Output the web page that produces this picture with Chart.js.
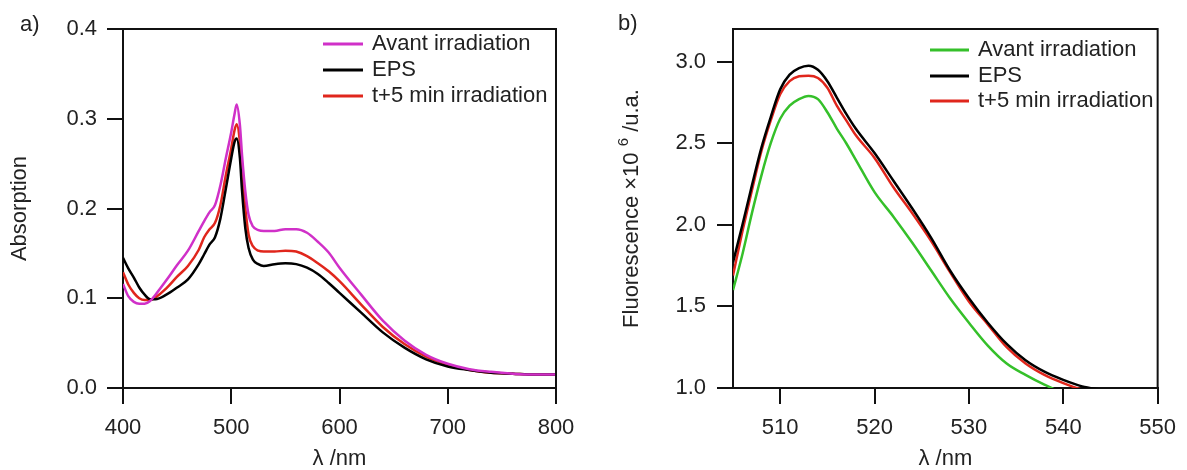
<!DOCTYPE html>
<html>
<head>
<meta charset="utf-8">
<script src="https://cdn.jsdelivr.net/npm/chart.js@4.4.1/dist/chart.umd.min.js"></script>
<style>
  body { margin: 0; background: #fff; width: 1187px; height: 470px; position: relative; overflow: hidden; font-family: "Liberation Sans", Arial, sans-serif; }
  canvas { position: absolute; top: 0; }
  #chartA { left: 0; }
  #chartB { left: 600px; }
  .panel-tag { position: absolute; font-size: 22px; line-height: 22px; color: #222; }
</style>
</head>
<body>
<canvas id="chartA" width="600" height="470"></canvas>
<canvas id="chartB" width="587" height="470"></canvas>
<div class="panel-tag" style="left:20px;top:13px">a)</div>
<div class="panel-tag" style="left:618px;top:12px">b)</div>
<script>
// a) absorption spectra
const absWavelengths = [400, 405, 410, 415, 420, 425, 430, 440, 450, 460, 470, 475, 480, 485, 490, 495, 500, 503, 505, 508, 510, 513, 516, 520, 525, 530, 540, 550, 560, 570, 580, 590, 600, 620, 640, 660, 680, 700, 720, 740, 760, 780, 800];
const absAvant = [0.116, 0.102, 0.096, 0.094, 0.094, 0.097, 0.104, 0.120, 0.137, 0.153, 0.175, 0.186, 0.196, 0.204, 0.226, 0.256, 0.285, 0.305, 0.316, 0.293, 0.259, 0.219, 0.193, 0.180, 0.176, 0.175, 0.175, 0.177, 0.177, 0.173, 0.163, 0.151, 0.134, 0.104, 0.075, 0.053, 0.037, 0.027, 0.021, 0.018, 0.016, 0.015, 0.015];
const absEps = [0.145, 0.133, 0.123, 0.112, 0.104, 0.099, 0.099, 0.104, 0.112, 0.121, 0.138, 0.149, 0.160, 0.168, 0.189, 0.222, 0.256, 0.274, 0.278, 0.256, 0.219, 0.178, 0.156, 0.143, 0.138, 0.136, 0.138, 0.139, 0.138, 0.134, 0.127, 0.117, 0.106, 0.084, 0.062, 0.045, 0.032, 0.024, 0.020, 0.017, 0.016, 0.015, 0.015];
const absT5 = [0.129, 0.115, 0.106, 0.100, 0.098, 0.098, 0.101, 0.111, 0.124, 0.136, 0.154, 0.168, 0.177, 0.184, 0.204, 0.237, 0.267, 0.287, 0.294, 0.274, 0.241, 0.200, 0.171, 0.158, 0.153, 0.152, 0.152, 0.153, 0.152, 0.147, 0.139, 0.130, 0.119, 0.093, 0.068, 0.049, 0.035, 0.026, 0.020, 0.017, 0.016, 0.015, 0.015];
const absXTicks = [400, 500, 600, 700, 800];
const absYTicks = [0.0, 0.1, 0.2, 0.3, 0.4];

// b) fluorescence spectra
const fluoWavelengths = [505, 506, 507, 508, 509, 510, 511, 512, 513, 514, 515, 516, 517, 518, 520, 522, 524, 526, 528, 530, 532, 534, 536, 538, 540, 542, 544];
const fluoAvant = [1.60, 1.82, 2.07, 2.30, 2.50, 2.65, 2.73, 2.77, 2.79, 2.77, 2.69, 2.59, 2.50, 2.40, 2.20, 2.05, 1.89, 1.72, 1.55, 1.40, 1.26, 1.15, 1.08, 1.02, 0.97, 0.94, 0.92];
const fluoEps = [1.77, 2.00, 2.24, 2.47, 2.66, 2.83, 2.92, 2.96, 2.975, 2.95, 2.88, 2.78, 2.68, 2.59, 2.44, 2.27, 2.10, 1.92, 1.72, 1.55, 1.40, 1.27, 1.17, 1.10, 1.05, 1.01, 0.99];
const fluoT5 = [1.69, 1.96, 2.21, 2.45, 2.64, 2.80, 2.88, 2.91, 2.914, 2.90, 2.84, 2.73, 2.64, 2.55, 2.41, 2.23, 2.07, 1.90, 1.71, 1.53, 1.39, 1.25, 1.15, 1.08, 1.03, 0.99, 0.97];
const fluoXTicks = [510, 520, 530, 540, 550];
const fluoYTicks = [1.0, 1.5, 2.0, 2.5, 3.0];

const seriesLabels = ['Avant irradiation', 'EPS', 't+5 min irradiation'];

const FONT = '"Liberation Sans", Arial, sans-serif';
const INK = '#222';
const AXIS = '#111';

Chart.defaults.font.family = FONT;
Chart.defaults.color = INK;

const toPoints = (xs, ys) => xs.map((x, i) => ({ x: x, y: ys[i] }));

// box around the plot, legend inside the plot area, and y title with a real superscript
const frameLegend = {
    id: 'frameLegend',
    afterDatasetsDraw(chart, args, opts) {
        const { ctx, chartArea: a } = chart;
        ctx.save();
        ctx.strokeStyle = AXIS;
        ctx.lineWidth = 2;
        ctx.beginPath();
        ctx.moveTo(a.left, a.top);
        ctx.lineTo(a.right, a.top);
        ctx.lineTo(a.right, a.bottom);
        ctx.stroke();

        ctx.font = '22px ' + FONT;
        ctx.textBaseline = 'middle';
        ctx.textAlign = 'left';
        chart.data.datasets.forEach((ds, i) => {
            const y = opts.rows[i];
            ctx.strokeStyle = ds.borderColor;
            ctx.lineWidth = 3;
            ctx.beginPath();
            ctx.moveTo(opts.lineX, y);
            ctx.lineTo(opts.lineX + opts.lineW, y);
            ctx.stroke();
            ctx.fillStyle = INK;
            ctx.fillText(ds.label, opts.textX, y);
        });

        if (opts.titleParts) {
            const parts = opts.titleParts;
            const fontOf = (p) => (p.sup ? '15px ' : '22px ') + FONT;
            let total = 0;
            parts.forEach(p => { ctx.font = fontOf(p); total += ctx.measureText(p.text).width; });
            ctx.translate(opts.titleX, (a.top + a.bottom) / 2);
            ctx.rotate(-Math.PI / 2);
            ctx.fillStyle = INK;
            ctx.textBaseline = 'alphabetic';
            let x = -total / 2;
            parts.forEach(p => {
                ctx.font = fontOf(p);
                ctx.fillText(p.text, x, p.sup ? -2 : 8);
                x += ctx.measureText(p.text).width;
            });
        }
        ctx.restore();
    }
};

const makeChart = (id, cfg) => {
    const datasets = cfg.series.map((values, i) => ({
        label: seriesLabels[i],
        data: toPoints(cfg.xs, values),
        borderColor: cfg.colors[i],
        borderWidth: 2.5,
        pointRadius: 0,
        cubicInterpolationMode: 'monotone',
        fill: false
    }));

    const axisBase = {
        type: 'linear',
        grid: { drawOnChartArea: false, drawTicks: true, tickLength: 16, color: AXIS, lineWidth: 2 },
        border: { display: true, color: AXIS, width: 2 }
    };

    return new Chart(document.getElementById(id), {
        type: 'line',
        data: { datasets: datasets },
        options: {
            responsive: false,
            animation: false,
            devicePixelRatio: 1,
            layout: { padding: { left: 0, top: 29, right: cfg.padRight, bottom: 0 } },
            plugins: {
                legend: { display: false },
                tooltip: { enabled: false },
                frameLegend: cfg.legend
            },
            scales: {
                x: Object.assign({}, axisBase, {
                    min: cfg.xMin,
                    max: cfg.xMax,
                    afterBuildTicks: (s) => { s.ticks = cfg.xTicks.map(v => ({ value: v })); },
                    afterFit: (s) => { s.height = 82; },
                    ticks: { color: INK, font: { size: 22 }, padding: 11, maxRotation: 0, autoSkip: false, callback: (v) => String(v) },
                    title: { display: true, text: 'λ /nm', color: INK, font: { size: 22, lineHeight: 1 }, padding: { top: 0, bottom: 0 } }
                }),
                y: Object.assign({}, axisBase, {
                    min: cfg.yMin,
                    max: cfg.yMax,
                    afterBuildTicks: (s) => { s.ticks = cfg.yTicks.map(v => ({ value: v })); },
                    afterFit: (s) => { s.width = cfg.yWidth; },
                    ticks: { color: INK, font: { size: 22 }, padding: cfg.yPad, autoSkip: false, callback: (v) => Number(v).toFixed(1) },
                    title: { display: !!cfg.yTitle, text: cfg.yTitle || '', color: INK, font: { size: 22, lineHeight: 1 }, padding: { top: cfg.yTitleOffset, bottom: 0 } }
                })
            }
        },
        plugins: [frameLegend]
    });
};

makeChart('chartA', {
    xs: absWavelengths,
    series: [absAvant, absEps, absT5],
    colors: ['#d030c8', '#000000', '#e0261c'],
    xMin: 400, xMax: 800, xTicks: absXTicks,
    yMin: 0, yMax: 0.4, yTicks: absYTicks,
    yTitle: 'Absorption',
    yWidth: 123, yPad: 10, yTitleOffset: 9,
    padRight: 44,
    legend: { lineX: 323, lineW: 40, textX: 372, rows: [44, 70, 96] }
});

makeChart('chartB', {
    xs: fluoWavelengths,
    series: [fluoAvant, fluoEps, fluoT5],
    colors: ['#35c02a', '#000000', '#e0261c'],
    xMin: 505, xMax: 550, xTicks: fluoXTicks,
    yMin: 1.0, yMax: 3.2, yTicks: fluoYTicks,
    yTitle: null,
    yWidth: 133, yPad: 11, yTitleOffset: 19,
    padRight: 24,
    legend: {
        lineX: 330, lineW: 39, textX: 378, rows: [50, 76, 101],
        titleX: 30,
        titleParts: [
            { text: 'Fluorescence ×10 ' },
            { text: '6', sup: true },
            { text: ' /u.a.' }
        ]
    }
});
</script>
</body>
</html>
